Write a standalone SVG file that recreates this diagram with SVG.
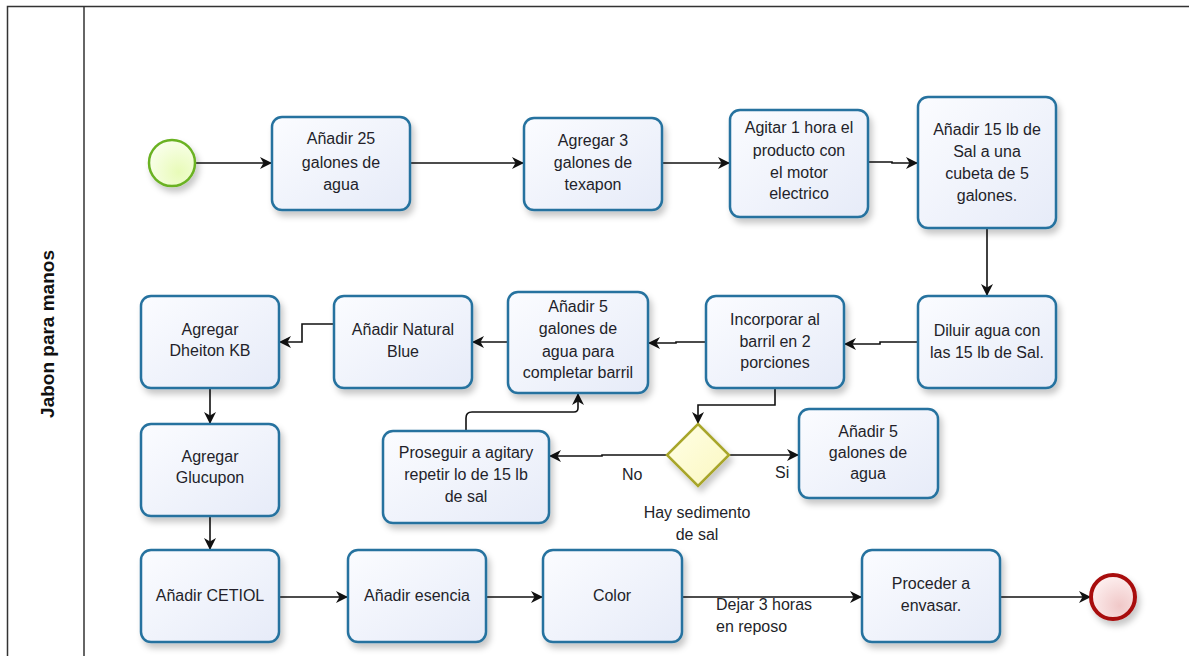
<svg xmlns="http://www.w3.org/2000/svg" width="1189" height="656" viewBox="0 0 1189 656">
<style>
.task rect{fill:url(#tg);stroke:#25729f;stroke-width:2.5;filter:url(#sh)}
.t{font-family:"Liberation Sans",Arial,sans-serif;font-size:16px;fill:#231f2a;text-anchor:middle}
.lbl{font-family:"Liberation Sans",Arial,sans-serif;font-size:16px;fill:#231f2a}
.c{fill:none;stroke:#111;stroke-width:1.6;marker-end:url(#ah)}
</style>
<defs>
<linearGradient id="tg" x1="0" y1="0" x2="1" y2="1"><stop offset="0" stop-color="#fbfcff"/><stop offset="1" stop-color="#e6ebf8"/></linearGradient>
<radialGradient id="sg" cx="0.65" cy="0.7" r="0.8"><stop offset="0" stop-color="#e8fbb8"/><stop offset="1" stop-color="#fbfff0"/></radialGradient>
<radialGradient id="eg" cx="0.65" cy="0.7" r="0.8"><stop offset="0" stop-color="#f0c8c8"/><stop offset="1" stop-color="#fff4f4"/></radialGradient>
<linearGradient id="gg" x1="0" y1="0" x2="1" y2="1"><stop offset="0" stop-color="#ffffe6"/><stop offset="1" stop-color="#fbf7c0"/></linearGradient>
<filter id="sh" x="-20%" y="-20%" width="150%" height="150%"><feDropShadow dx="3" dy="5" stdDeviation="3" flood-color="#000" flood-opacity="0.22"/></filter>
<marker id="ah" viewBox="0 0 12 12" refX="11" refY="6" markerWidth="12" markerHeight="12" markerUnits="userSpaceOnUse" orient="auto"><path d="M0,0 L12,6 L0,12 L3.5,6 z" fill="#111"/></marker>
</defs>
<rect width="1189" height="656" fill="#fff"/>
<g id="pool">
<path d="M7.5,660 V6.5 H1189" fill="none" stroke="#333" stroke-width="1.5"/>
<line x1="84" y1="6.5" x2="84" y2="660" stroke="#333" stroke-width="1.5"/>
<text transform="translate(54,334) rotate(-90)" font-family="'Liberation Sans',Arial,sans-serif" font-size="19" font-weight="bold" fill="#111" text-anchor="middle">Jabon para manos</text>
</g>
<g id="connectors">
<path class="c" d="M195,163 H271"/>
<path class="c" d="M410,163 H523"/>
<path class="c" d="M662,163 H729"/>
<path class="c" d="M868,162 H892 V163 H917"/>
<path class="c" d="M987,228 V295"/>
<path class="c" d="M918,342 H880 V344 H845"/>
<path class="c" d="M706,342 H676 V343 H649"/>
<path class="c" d="M508,342 H473"/>
<path class="c" d="M334,324 H302 V342 H280"/>
<path class="c" d="M210,388 V423"/>
<path class="c" d="M775,388 V405 H698 V423"/>
<path class="c" d="M667,455 H602 V456 H550"/>
<path class="c" d="M729,455 H798"/>
<path class="c" d="M466,431 V418 Q466,412 472,412 H574 Q578,412 578,408 V394"/>
<path class="c" d="M210,516 V549"/>
<path class="c" d="M279,597 H347"/>
<path class="c" d="M486,597 H542"/>
<path class="c" d="M682,597 H861"/>
<path class="c" d="M1000,597 H1090"/>
</g>
<g id="labels">
<text class="lbl" x="622" y="480">No</text>
<text class="lbl" x="775" y="478">Si</text>
<text class="t" x="697" y="518">Hay sedimento</text>
<text class="t" x="697" y="540">de sal</text>
<text class="lbl" x="716" y="610">Dejar 3 horas</text>
<text class="lbl" x="716" y="632">en reposo</text>
</g>
<g id="start"><circle cx="172" cy="163" r="23" fill="url(#sg)" stroke="#6bb224" stroke-width="2.5" filter="url(#sh)"/></g>
<g id="end"><circle cx="1113" cy="597" r="22" fill="url(#eg)" stroke="#a81010" stroke-width="4" filter="url(#sh)"/></g>
<g id="n1" class="task"><rect x="272" y="117" width="138" height="93" rx="10"/><text class="t" x="341" y="144">Añadir 25</text><text class="t" x="341" y="168">galones de</text><text class="t" x="341" y="190">agua</text></g>
<g id="n2" class="task"><rect x="524" y="118" width="138" height="92" rx="10"/><text class="t" x="593" y="146">Agregar 3</text><text class="t" x="593" y="168">galones de</text><text class="t" x="593" y="190">texapon</text></g>
<g id="n3" class="task"><rect x="730" y="110" width="138" height="107" rx="10"/><text class="t" x="799" y="133">Agitar 1 hora el</text><text class="t" x="799" y="156">producto con</text><text class="t" x="799" y="178">el motor</text><text class="t" x="799" y="199">electrico</text></g>
<g id="n4" class="task"><rect x="918" y="97" width="138" height="131" rx="10"/><text class="t" x="987" y="135">Añadir 15 lb de</text><text class="t" x="987" y="157">Sal a una</text><text class="t" x="987" y="179">cubeta de 5</text><text class="t" x="987" y="201">galones.</text></g>
<g id="n5" class="task"><rect x="918" y="296" width="138" height="92" rx="10"/><text class="t" x="987" y="336">Diluir agua con</text><text class="t" x="987" y="358">las 15 lb de Sal.</text></g>
<g id="n6" class="task"><rect x="706" y="296" width="138" height="92" rx="10"/><text class="t" x="775" y="325">Incorporar al</text><text class="t" x="775" y="347">barril en 2</text><text class="t" x="775" y="368">porciones</text></g>
<g id="n7" class="task"><rect x="508" y="292" width="140" height="101" rx="10"/><text class="t" x="578" y="312">Añadir 5</text><text class="t" x="578" y="334">galones de</text><text class="t" x="578" y="357">agua para</text><text class="t" x="578" y="378">completar barril</text></g>
<g id="n8" class="task"><rect x="334" y="296" width="138" height="92" rx="10"/><text class="t" x="403" y="335">Añadir Natural</text><text class="t" x="403" y="357">Blue</text></g>
<g id="n9" class="task"><rect x="141" y="296" width="138" height="92" rx="10"/><text class="t" x="210" y="335">Agregar</text><text class="t" x="210" y="356">Dheiton KB</text></g>
<g id="n10" class="task"><rect x="141" y="424" width="138" height="92" rx="10"/><text class="t" x="210" y="462">Agregar</text><text class="t" x="210" y="483">Glucupon</text></g>
<g id="n11" class="task"><rect x="383" y="431" width="166" height="92" rx="10"/><text class="t" x="466" y="458">Proseguir a agitary</text><text class="t" x="466" y="480">repetir lo de 15 lb</text><text class="t" x="466" y="502">de sal</text></g>
<g id="gw"><path d="M698,424 L729,455 L698,486 L667,455 z" fill="url(#gg)" stroke="#a8a62c" stroke-width="2.5" filter="url(#sh)"/></g>
<g id="n13" class="task"><rect x="799" y="409" width="139" height="89" rx="10"/><text class="t" x="868" y="437">Añadir 5</text><text class="t" x="868" y="458">galones de</text><text class="t" x="868" y="479">agua</text></g>
<g id="n14" class="task"><rect x="141" y="550" width="138" height="92" rx="10"/><text class="t" x="210" y="601">Añadir CETIOL</text></g>
<g id="n15" class="task"><rect x="348" y="550" width="138" height="92" rx="10"/><text class="t" x="417" y="601">Añadir esencia</text></g>
<g id="n16" class="task"><rect x="543" y="550" width="139" height="92" rx="10"/><text class="t" x="612" y="601">Color</text></g>
<g id="n17" class="task"><rect x="862" y="550" width="138" height="92" rx="10"/><text class="t" x="931" y="589">Proceder a</text><text class="t" x="931" y="611">envasar.</text></g>
</svg>
